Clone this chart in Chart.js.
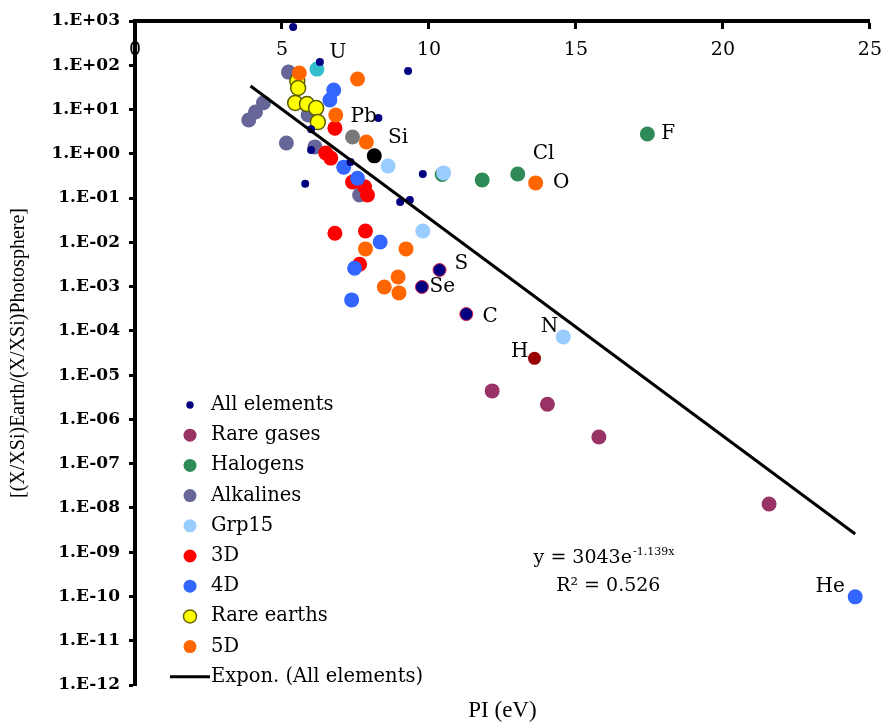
<!DOCTYPE html>
<html><head><meta charset="utf-8">
<script src="https://cdn.jsdelivr.net/npm/chart.js@4/dist/chart.umd.min.js"></script>
<style>html,body{margin:0;padding:0;background:#fff;}#wrap{width:894px;height:725px;}</style>
</head><body><div id="wrap"><canvas id="c" width="894" height="725"></canvas></div>
<script>
// ---------- data ----------
const xTickValues = [0, 5, 10, 15, 20, 25];
const yTickExponents = [3, 2, 1, 0, -1, -2, -3, -4, -5, -6, -7, -8, -9, -10, -11, -12];

const allElementsX = [5.38, 6.29, 9.29, 8.28, 5.99, 5.99, 5.79, 7.33, 9.02, 9.35, 9.79];
const allElementsY = [730, 119, 74, 6.4, 3.6, 1.22, 0.21, 0.65, 0.082, 0.091, 0.35];

const rareGasX = [12.15, 14.03, 15.78, 21.57];
const rareGasY = [4.4e-6, 2.2e-6, 4.0e-7, 1.23e-8];

const halogenX = [17.43, 13.02, 11.81, 10.45];
const halogenY = [2.8, 0.35, 0.256, 0.34];

const alkalineX = [3.87, 4.1, 4.37, 5.22, 5.15, 6.12, 7.64, 5.89];
const alkalineY = [5.8, 8.8, 14.2, 70, 1.75, 1.43, 0.117, 7.5];

const grp15X = [8.61, 10.5, 9.79, 14.57];
const grp15Y = [0.53, 0.37, 0.018, 7.3e-5];

const d3X = [6.8, 6.49, 6.66, 7.4, 7.81, 7.91, 6.8, 7.84, 7.64];
const d3Y = [3.8, 1.04, 0.80, 0.23, 0.18, 0.117, 0.016, 0.018, 3.2e-3];

const d4X = [6.76, 6.63, 7.1, 7.57, 8.34, 7.47, 7.37, 24.5];
const d4Y = [27.6, 16.4, 0.50, 0.28, 0.0102, 2.6e-3, 5.0e-4, 9.8e-11];

const rareEarthX = [5.52, 5.55, 5.45, 5.85, 6.16, 6.22];
const rareEarthY = [44, 30.7, 14.1, 13.3, 10.8, 5.2];

const d5X = [5.59, 7.57, 6.83, 7.87, 7.84, 9.22, 8.48, 8.95, 8.98, 13.63];
const d5Y = [67, 49, 7.5, 1.85, 7.1e-3, 7.1e-3, 9.8e-4, 1.65e-3, 7.2e-4, 0.22];

const siX = [8.14], siY = [0.9];
const uX = [6.19], uY = [82];
const pbX = [7.4], pbY = [2.4];
const hX = [13.59], hY = [2.4e-5];
const chalcX = [10.36, 9.76, 11.27];
const chalcY = [2.37e-3, 9.8e-4, 2.4e-4];

const trendX = [3.93, 24.5];
const trendY = [34, 2.58e-9];

const labelTexts = ['U', 'Pb', 'Si', 'Cl', 'F', 'O', 'S', 'Se', 'C', 'N', 'H', 'He'];
const labelX = [6.9, 7.78, 8.95, 13.9, 18.14, 14.5, 11.1, 10.45, 12.08, 14.1, 13.09, 23.65];
const labelY = [189, 6.8, 2.28, 0.99, 2.8, 0.22, 3.2e-3, 9.8e-4, 2.06e-4, 1.22e-4, 3.3e-5, 1.64e-10];

const legendNames = ['All elements', 'Rare gases', 'Halogens', 'Alkalines', 'Grp15', '3D', '4D', 'Rare earths', '5D', 'Expon. (All elements)'];

// ---------- chart ----------
const SERIF = '"DejaVu Serif", serif';
Chart.defaults.font.family = SERIF;
Chart.defaults.color = '#000';

const pts = (xs, ys) => xs.map((x, i) => ({x: x, y: ys[i]}));
function sc(label, xs, ys, fill, r, order, border, bw) {
  return {type: 'scatter', label: label, data: pts(xs, ys), backgroundColor: fill,
    borderColor: border || fill, borderWidth: bw || 0, pointRadius: r, pointHoverRadius: r, order: order};
}

const styles = [
  {fill: '#000080', r: 3.7},
  {fill: '#993366', r: 6.5},
  {fill: '#2E8B57', r: 6.5},
  {fill: '#666699', r: 6.5},
  {fill: '#99CCFF', r: 6.5},
  {fill: '#FF0000', r: 6.5},
  {fill: '#3366FF', r: 6.5},
  {fill: '#FFFF00', r: 6.5, border: '#666600', bw: 1.5},
  {fill: '#FF6600', r: 6.5},
];

const datasets = [
  {type: 'line', label: legendNames[9], data: pts(trendX, trendY), borderColor: '#000', borderWidth: 3,
   pointRadius: 0, fill: false, order: 0},
  sc(legendNames[0], allElementsX, allElementsY, '#000080', 4, 1),
  sc('Si', siX, siY, '#000000', 7.5, 2),
  sc('S/Se/C', chalcX, chalcY, '#000080', 6.5, 2, '#E0204A', 1),
  sc('H', hX, hY, '#990000', 6.5, 2),
  sc('U', uX, uY, '#33C0CC', 7.5, 2),
  sc('Pb', pbX, pbY, '#7A7A7A', 7.5, 2),
  sc(legendNames[8], d5X, d5Y, '#FF6600', 7.5, 3),
  sc(legendNames[6], d4X, d4Y, '#3366FF', 7.5, 4),
  sc(legendNames[5], d3X, d3Y, '#FF0000', 7.5, 5),
  sc(legendNames[4], grp15X, grp15Y, '#99CCFF', 7.5, 6),
  sc(legendNames[7], rareEarthX, rareEarthY, '#FFFF00', 7.5, 7, '#5C5C00', 1.5),
  sc(legendNames[2], halogenX, halogenY, '#2E8B57', 7.5, 8),
  sc(legendNames[3], alkalineX, alkalineY, '#666699', 7.5, 9),
  sc(legendNames[1], rareGasX, rareGasY, '#993366', 7.5, 10),
];

function fmtExp(v) {
  const e = Math.round(Math.log10(v));
  const s = e < 0 ? '-' : '+';
  const a = Math.abs(e);
  return '1.E' + s + (a < 10 ? '0' : '') + a;
}

const overlay = {
  id: 'overlay',
  afterDatasetsDraw(chart) {
    const {ctx} = chart;
    const x = chart.scales.x, y = chart.scales.y;
    ctx.save();
    ctx.fillStyle = '#000';
    ctx.font = '20px ' + SERIF;
    ctx.textAlign = 'center';
    ctx.textBaseline = 'middle';
    labelTexts.forEach((t, i) => {
      ctx.fillText(t, x.getPixelForValue(labelX[i]), y.getPixelForValue(labelY[i]));
    });
    // trend equation
    ctx.font = '19px ' + SERIF;
    const ex = x.getPixelForValue(13.56), ey = y.getPixelForValue(7.4e-10);
    ctx.textAlign = 'left';
    ctx.fillText('y = 3043e', ex, ey);
    const w = ctx.measureText('y = 3043e').width;
    ctx.font = '11px ' + SERIF;
    ctx.fillText('-1.139x', ex + w + 1, ey - 6);
    ctx.font = '19px ' + SERIF;
    ctx.textAlign = 'center';
    ctx.fillText('R\u00B2 = 0.526', x.getPixelForValue(16.1), y.getPixelForValue(1.73e-10));
    ctx.restore();
  },
  afterDraw(chart) {
    const {ctx, chartArea} = chart;
    const cx = chartArea.left + 55, tx = chartArea.left + 76;
    const y0 = chartArea.top + 384, step = 30.2;
    ctx.save();
    ctx.font = '19.5px ' + SERIF;
    ctx.textAlign = 'left';
    ctx.textBaseline = 'middle';
    legendNames.forEach((name, i) => {
      const yy = y0 + i * step;
      if (i < styles.length) {
        const s = styles[i];
        ctx.beginPath();
        ctx.arc(cx, yy, s.r, 0, Math.PI * 2);
        ctx.fillStyle = s.fill;
        ctx.fill();
        if (s.border) { ctx.lineWidth = s.bw; ctx.strokeStyle = s.border; ctx.stroke(); }
      } else {
        ctx.beginPath();
        ctx.moveTo(cx - 20, yy); ctx.lineTo(cx + 20, yy);
        ctx.lineWidth = 3; ctx.strokeStyle = '#000'; ctx.stroke();
      }
      ctx.fillStyle = '#000';
      ctx.fillText(name, tx, yy);
    });
    ctx.restore();
  }
};

new Chart(document.getElementById('c'), {
  data: {datasets: datasets},
  options: {
    responsive: false,
    animation: false,
    layout: {padding: {left: 0, top: 21, right: 16, bottom: 0}},
    plugins: {legend: {display: false}, tooltip: {enabled: false}},
    scales: {
      x: {
        type: 'linear', position: {y: 1000}, min: 0, max: 25,
        afterBuildTicks: s => { s.ticks = xTickValues.map(v => ({value: v})); },
        grid: {display: true, drawOnChartArea: false, drawTicks: true, tickLength: 6, tickWidth: 3, tickColor: '#000'},
        border: {display: true, color: '#000', width: 4},
        ticks: {font: {size: 19}, padding: 12, color: '#000', maxRotation: 0, autoSkip: false},
        title: {display: false}
      },
      x2: {
        type: 'linear', position: 'bottom', min: 0, max: 25, axis: 'x',
        afterFit: s => { s.height = 40; },
        grid: {display: false, drawTicks: false},
        border: {display: false},
        ticks: {display: false},
        title: {display: true, text: 'PI (eV)', font: {size: 23, family: '"Liberation Serif", serif'}, color: '#000', padding: 0}
      },
      y: {
        type: 'logarithmic', position: 'left', min: 1e-12, max: 1e3,
        afterFit: s => { s.width = 135; },
        afterBuildTicks: s => { s.ticks = yTickExponents.map(e => ({value: Math.pow(10, e)})); },
        grid: {display: true, drawOnChartArea: false, drawTicks: true, tickLength: 6, tickWidth: 3, tickColor: '#000'},
        border: {display: true, color: '#000', width: 4},
        ticks: {font: {size: 17, weight: 'bold'}, padding: 9, color: '#000', autoSkip: false, callback: v => fmtExp(v)},
        title: {display: true, text: '[(X/XSi)Earth/(X/XSi)Photosphere]', font: {size: 20, family: '"Liberation Serif", serif'}, color: '#000', padding: {top: 7, bottom: 0}}
      }
    }
  },
  plugins: [overlay]
});
</script>
</body></html>
